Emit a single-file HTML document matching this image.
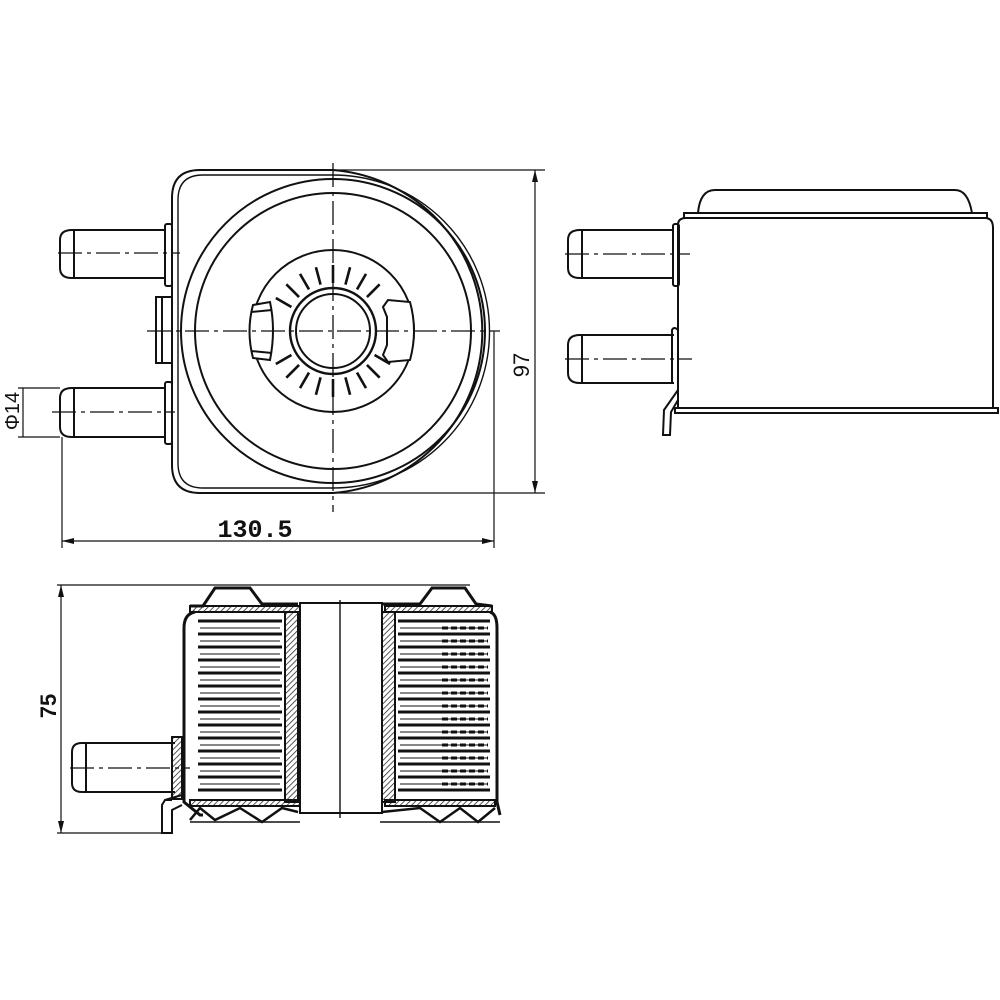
<!DOCTYPE html>
<html><head><meta charset="utf-8"><style>html,body{margin:0;padding:0;background:#fff}svg{display:block}</style></head>
<body>
<svg width="1000" height="1000" viewBox="0 0 1000 1000" xmlns="http://www.w3.org/2000/svg" fill="none" stroke="#111" stroke-width="2">
<defs>
<pattern id="h" width="4" height="4" patternUnits="userSpaceOnUse" patternTransform="rotate(45)"><line x1="0" y1="0" x2="0" y2="4" stroke="#222" stroke-width="1.5"/></pattern>
</defs>
<!-- FRONT VIEW -->
<g>
<path d="M200 170 L333 170 A162 162 0 0 1 333 493 L200 493 Q172 493 172 465 L172 198 Q172 170 200 170 Z"/>
<path d="M203 175 L333 175 A156 156 0 0 1 333 488 L203 488 Q178 488 178 463 L178 200 Q178 175 203 175 Z" stroke-width="1.4"/>
<circle cx="333" cy="331" r="152"/>
<circle cx="333" cy="331" r="138"/>
<circle cx="333" cy="331" r="81"/>
<circle cx="333" cy="331" r="43" stroke-width="2.4"/>
<circle cx="333" cy="331" r="37"/>
<g stroke-width="2.6">
<line x1="333" y1="283" x2="333" y2="265" transform="rotate(-60 333 331)"/>
<line x1="333" y1="283" x2="333" y2="265" transform="rotate(-45 333 331)"/>
<line x1="333" y1="283" x2="333" y2="265" transform="rotate(-30 333 331)"/>
<line x1="333" y1="283" x2="333" y2="265" transform="rotate(-15 333 331)"/>
<line x1="333" y1="283" x2="333" y2="265"/>
<line x1="333" y1="283" x2="333" y2="265" transform="rotate(15 333 331)"/>
<line x1="333" y1="283" x2="333" y2="265" transform="rotate(30 333 331)"/>
<line x1="333" y1="283" x2="333" y2="265" transform="rotate(45 333 331)"/>
<line x1="333" y1="283" x2="333" y2="265" transform="rotate(120 333 331)"/>
<line x1="333" y1="283" x2="333" y2="265" transform="rotate(135 333 331)"/>
<line x1="333" y1="283" x2="333" y2="265" transform="rotate(150 333 331)"/>
<line x1="333" y1="283" x2="333" y2="265" transform="rotate(165 333 331)"/>
<line x1="333" y1="283" x2="333" y2="265" transform="rotate(180 333 331)"/>
<line x1="333" y1="283" x2="333" y2="265" transform="rotate(195 333 331)"/>
<line x1="333" y1="283" x2="333" y2="265" transform="rotate(210 333 331)"/>
<line x1="333" y1="283" x2="333" y2="265" transform="rotate(225 333 331)"/>
<line x1="333" y1="283" x2="333" y2="265" transform="rotate(240 333 331)"/>
</g>
<path d="M253 305 L270 302 Q276 330 270 360 L253 358 Q246 331 253 305 Z" fill="#fff"/>
<line x1="251" y1="312" x2="272" y2="310"/><line x1="251" y1="351" x2="272" y2="353"/>
<path d="M383 307 L388 300 L410 302 Q418 331 410 360 L388 362 L383 355 L387 345 L387 317 Z" fill="#fff"/>
<g stroke-dasharray="24 5 4 5" stroke-width="1.3">
<line x1="333" y1="163" x2="333" y2="512"/>
<line x1="147" y1="331" x2="500" y2="331"/>
<line x1="58" y1="253" x2="180" y2="253"/>
<line x1="52" y1="412" x2="175" y2="412"/>
</g>
<path d="M164 230 L72 230 Q60 230 60 240 L60 268 Q60 278 72 278 L164 278"/>
<line x1="74" y1="230" x2="74" y2="278"/>
<rect x="165" y="224" width="7" height="62" rx="2"/>
<path d="M164 388 L72 388 Q60 388 60 398 L60 427 Q60 437 72 437 L164 437"/>
<line x1="74" y1="388" x2="74" y2="437"/>
<rect x="165" y="382" width="7" height="62" rx="2"/>
<rect x="156" y="297" width="16" height="66"/>
<line x1="162" y1="297" x2="162" y2="363"/>
</g>
<g stroke-width="1.2">
<line x1="333" y1="170" x2="545" y2="170"/>
<line x1="333" y1="493" x2="545" y2="493"/>
<line x1="535" y1="170" x2="535" y2="493"/>
<line x1="62" y1="437" x2="62" y2="548"/>
<line x1="494" y1="331" x2="494" y2="548"/>
<line x1="62" y1="541" x2="494" y2="541"/>
<line x1="18" y1="388" x2="60" y2="388"/>
<line x1="18" y1="437" x2="60" y2="437"/>
<line x1="23" y1="388" x2="23" y2="437"/>
</g>
<g fill="#111" stroke="none">
<path d="M535 170 l-3 12 h6z"/><path d="M535 493 l-3 -12 h6z"/>
<path d="M62 541 l12 -3 v6z"/><path d="M494 541 l-12 -3 v6z"/>
</g>
<g fill="#111" stroke="none" font-family="Liberation Sans, sans-serif" font-size="22">
<text x="255" y="537" text-anchor="middle" font-family="Liberation Mono, monospace" font-size="25" font-weight="bold">130.5</text>
<text transform="translate(529 365) rotate(-90)" text-anchor="middle">97</text>
<text transform="translate(19 411) rotate(-90)" text-anchor="middle" font-size="20">Φ14</text>
<text transform="translate(56 706) rotate(-90)" text-anchor="middle" font-weight="bold">75</text>
</g>
<!-- SIDE VIEW -->
<g>
<path d="M698 213 Q700 190 715 190 L955 190 Q968 190 972 213"/>
<rect x="684" y="213" width="303" height="5"/>
<path d="M678 408 L678 225 Q678 218 686 218 L985 218 Q993 218 993 228 L993 408"/>
<rect x="675" y="408" width="323" height="5"/>
<path d="M674 230 L580 230 Q568 230 568 240 L568 268 Q568 278 580 278 L674 278"/>
<line x1="582" y1="230" x2="582" y2="278"/>
<rect x="673" y="224" width="6" height="62" rx="2"/>
<path d="M674 335 L580 335 Q568 335 568 345 L568 373 Q568 383 580 383 L674 383"/>
<line x1="582" y1="335" x2="582" y2="383"/>
<path d="M672 383 L672 330 Q674 326 678 330"/>
<path d="M678 390 L664 410 L663 435 L670 435 L671 412 L678 400"/>
<g stroke-dasharray="24 5 4 5" stroke-width="1.3">
<line x1="565" y1="254" x2="690" y2="254"/>
<line x1="565" y1="359" x2="692" y2="359"/>
</g>
</g>
<!-- BOTTOM SECTION VIEW -->
<g stroke-width="1.2">
<line x1="57" y1="585" x2="470" y2="585"/>
<line x1="57" y1="833" x2="172" y2="833"/>
<line x1="61" y1="585" x2="61" y2="833"/>
</g>
<g fill="#111" stroke="none"><path d="M61 585 l-3 12 h6z"/><path d="M61 833 l-3 -12 h6z"/></g>
<g>
<path d="M190 606 L203 606 L215 588 L250 588 L262 604 L298 604 M382 604 L420 604 L432 588 L465 588 L476 604 L492 606" stroke-width="3"/>
<rect x="190" y="606" width="110" height="6" fill="url(#h)"/>
<rect x="385" y="606" width="107" height="6" fill="url(#h)"/>
<path d="M195 612 Q184 614 184 628 L184 802 L200 815 L203 815" stroke-width="3"/>
<path d="M490 612 Q497 614 497 628 L497 802 L500 815" stroke-width="3"/>
<path d="M190 820 L200 808 L215 820 L240 808 L262 822 L282 808 L298 812 M382 812 L420 808 L440 822 L460 808 L478 822 L495 808" stroke-width="2.5"/>
<path d="M190 822 L300 822 M380 822 L500 822" stroke-width="1.5"/>
<rect x="190" y="800" width="110" height="6" fill="url(#h)"/>
<rect x="385" y="800" width="110" height="6" fill="url(#h)"/>
<rect x="300" y="603" width="82" height="210"/>
<line x1="340" y1="600" x2="340" y2="818" stroke-width="1.4"/>
<rect x="285" y="612" width="13" height="190" fill="url(#h)"/>
<rect x="382" y="612" width="13" height="190" fill="url(#h)"/>
</g>
<g stroke-width="3">
<line x1="198" y1="621" x2="282" y2="621"/><line x1="398" y1="621" x2="490" y2="621"/>
<line x1="198" y1="634" x2="282" y2="634"/><line x1="398" y1="634" x2="490" y2="634"/>
<line x1="198" y1="647" x2="282" y2="647"/><line x1="398" y1="647" x2="490" y2="647"/>
<line x1="198" y1="660" x2="282" y2="660"/><line x1="398" y1="660" x2="490" y2="660"/>
<line x1="198" y1="673" x2="282" y2="673"/><line x1="398" y1="673" x2="490" y2="673"/>
<line x1="198" y1="686" x2="282" y2="686"/><line x1="398" y1="686" x2="490" y2="686"/>
<line x1="198" y1="699" x2="282" y2="699"/><line x1="398" y1="699" x2="490" y2="699"/>
<line x1="198" y1="712" x2="282" y2="712"/><line x1="398" y1="712" x2="490" y2="712"/>
<line x1="198" y1="725" x2="282" y2="725"/><line x1="398" y1="725" x2="490" y2="725"/>
<line x1="198" y1="738" x2="282" y2="738"/><line x1="398" y1="738" x2="490" y2="738"/>
<line x1="198" y1="751" x2="282" y2="751"/><line x1="398" y1="751" x2="490" y2="751"/>
<line x1="198" y1="764" x2="282" y2="764"/><line x1="398" y1="764" x2="490" y2="764"/>
<line x1="198" y1="777" x2="282" y2="777"/><line x1="398" y1="777" x2="490" y2="777"/>
<line x1="198" y1="790" x2="282" y2="790"/><line x1="398" y1="790" x2="490" y2="790"/>
</g>
<g stroke-width="1">
<line x1="200" y1="628" x2="280" y2="628"/><line x1="400" y1="628" x2="488" y2="628"/>
<line x1="200" y1="641" x2="280" y2="641"/><line x1="400" y1="641" x2="488" y2="641"/>
<line x1="200" y1="654" x2="280" y2="654"/><line x1="400" y1="654" x2="488" y2="654"/>
<line x1="200" y1="667" x2="280" y2="667"/><line x1="400" y1="667" x2="488" y2="667"/>
<line x1="200" y1="680" x2="280" y2="680"/><line x1="400" y1="680" x2="488" y2="680"/>
<line x1="200" y1="693" x2="280" y2="693"/><line x1="400" y1="693" x2="488" y2="693"/>
<line x1="200" y1="706" x2="280" y2="706"/><line x1="400" y1="706" x2="488" y2="706"/>
<line x1="200" y1="719" x2="280" y2="719"/><line x1="400" y1="719" x2="488" y2="719"/>
<line x1="200" y1="732" x2="280" y2="732"/><line x1="400" y1="732" x2="488" y2="732"/>
<line x1="200" y1="745" x2="280" y2="745"/><line x1="400" y1="745" x2="488" y2="745"/>
<line x1="200" y1="758" x2="280" y2="758"/><line x1="400" y1="758" x2="488" y2="758"/>
<line x1="200" y1="771" x2="280" y2="771"/><line x1="400" y1="771" x2="488" y2="771"/>
<line x1="200" y1="784" x2="280" y2="784"/><line x1="400" y1="784" x2="488" y2="784"/>
</g>
<g stroke-width="3" stroke-dasharray="6 3">
<line x1="442" y1="628" x2="488" y2="628"/><line x1="442" y1="641" x2="488" y2="641"/><line x1="442" y1="654" x2="488" y2="654"/><line x1="442" y1="667" x2="488" y2="667"/><line x1="442" y1="680" x2="488" y2="680"/><line x1="442" y1="693" x2="488" y2="693"/><line x1="442" y1="706" x2="488" y2="706"/><line x1="442" y1="719" x2="488" y2="719"/><line x1="442" y1="732" x2="488" y2="732"/><line x1="442" y1="745" x2="488" y2="745"/><line x1="442" y1="758" x2="488" y2="758"/><line x1="442" y1="771" x2="488" y2="771"/><line x1="442" y1="784" x2="488" y2="784"/>
</g>
<g>
<path d="M175 743 L82 743 Q72 743 72 752 L72 783 Q72 792 82 792 L175 792"/>
<line x1="86" y1="743" x2="86" y2="792"/>
<rect x="172" y="737" width="10" height="62" fill="url(#h)"/>
<path d="M172 800 L165 800 L162 805 L162 833 L172 833 L172 810 L182 805"/>
<path d="M165 800 L182 795"/>
<line x1="70" y1="768" x2="190" y2="768" stroke-dasharray="24 5 4 5" stroke-width="1.3"/>
</g>
</svg>
</body></html>
